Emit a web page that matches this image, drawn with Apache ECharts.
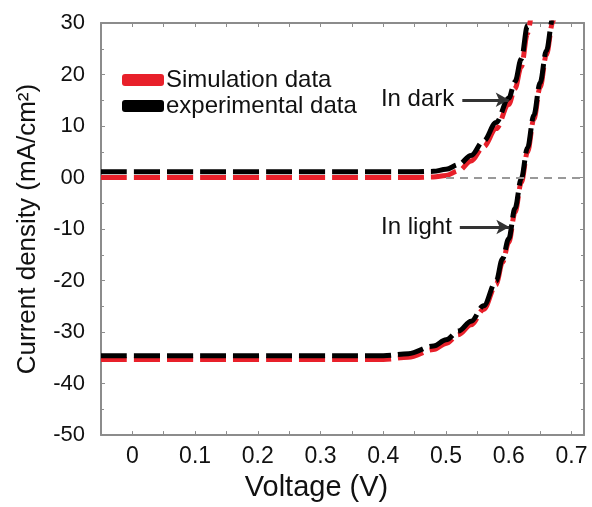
<!DOCTYPE html>
<html>
<head>
<meta charset="utf-8">
<script src="https://cdn.jsdelivr.net/npm/echarts@6/dist/echarts.min.js"></script>
<style>html,body{margin:0;padding:0;background:#fff}#c{width:592px;height:507px}</style>
</head>
<body>
<div id="c"></div>
<script>
// ---- data ----
const darkV = [-0.05, 0.1, 0.2, 0.3, 0.4, 0.45, 0.48, 0.50, 0.52, 0.54, 0.56, 0.58, 0.60, 0.61, 0.62, 0.63, 0.636];
const darkJ_sim = [0, 0, 0, 0, 0, 0, 0.1, 0.4, 1.3, 3.2, 6.0, 9.5, 14.2, 17.3, 21.5, 28, 32];
const darkJ_exp = [1.1, 1.1, 1.1, 1.1, 1.1, 1.1, 1.2, 1.6, 2.5, 4.3, 7.1, 10.7, 15.4, 18.6, 23, 29.5, 33.5];
const lightV = [-0.05, 0.1, 0.2, 0.3, 0.4, 0.44, 0.48, 0.50, 0.52, 0.54, 0.56, 0.58, 0.59, 0.60, 0.61, 0.62, 0.63, 0.64, 0.65, 0.66, 0.67, 0.675];
const lightJ_sim = [-35.3, -35.3, -35.3, -35.3, -35.3, -34.9, -33.4, -32.2, -30.5, -28.6, -25.6, -20.8, -16.5, -12.6, -6.8, -1.0, 5.0, 11.3, 17.5, 23.8, 30.0, 33];
const lightJ_exp = [-34.6, -34.6, -34.6, -34.6, -34.6, -34.2, -32.7, -31.5, -29.8, -27.9, -24.9, -20.1, -15.8, -11.9, -6.0, -0.2, 5.8, 12.1, 18.4, 24.6, 30.8, 34];
const xTickLabels = ['0', '0.1', '0.2', '0.3', '0.4', '0.5', '0.6', '0.7'];
const yTickLabels = {30: '30', 20: '20', 10: '10', 0: '00', '-10': '-10', '-20': '-20', '-30': '-30', '-40': '-40', '-50': '-50'};
const seriesNames = ['Simulation data', 'experimental data'];
const annDark = {text: 'In dark', from: [0.526, 15.1], to: [0.600, 15.1]};
const annLight = {text: 'In light', from: [0.522, -9.6], to: [0.601, -9.6]};

const zip = (a, b) => a.map((v, i) => [v, b[i]]);
const FONT = 'Liberation Sans, Arial, sans-serif';
const RED = '#e8202a', BLK = '#000000', AX = '#8c8c8c';

function curve(name, v, j, color, extra) {
  return Object.assign({
    name: name, type: 'line', data: zip(v, j), showSymbol: false, symbol: 'none',
    smooth: 0.35, smoothMonotone: 'x', silent: true,
    lineStyle: {color: color, width: 5, type: [26, 7]},
    itemStyle: {color: color}
  }, extra || {});
}

function arrow(a) {
  return {
    silent: true, symbol: ['none', 'arrow'], symbolSize: [11, 13],
    lineStyle: {color: '#333', width: 3, type: 'solid'},
    label: {show: true, position: 'start', formatter: a.text, fontSize: 24, fontFamily: FONT, color: '#111', distance: 8},
    data: [[{coord: a.from}, {coord: a.to}]]
  };
}

const axLine = {show: true, onZero: false, lineStyle: {color: AX, width: 2}};
const tick = {show: true, inside: true, length: 4, lineStyle: {color: AX}};

const chart = echarts.init(document.getElementById('c'));
chart.setOption({
  animation: false,
  grid: {left: 101, top: 23, right: 8, bottom: 70},
  legend: {
    data: seriesNames.map(n => ({name: n, icon: 'roundRect'})),
    orient: 'vertical', left: 117, top: 63, itemWidth: 42, itemHeight: 12, itemGap: 2,
    textStyle: {fontSize: 24, fontFamily: FONT, color: '#111', padding: [0, 0, 0, -3]}, selectedMode: false
  },
  xAxis: [{
    type: 'value', min: -0.05, max: 0.72, interval: 0.05,
    name: 'Voltage (V)', nameLocation: 'middle', nameGap: 36,
    nameTextStyle: {fontSize: 29, fontFamily: FONT, color: '#111', padding: [0, 52, 0, 0]},
    axisLine: axLine, axisTick: tick, splitLine: {show: false},
    axisLabel: {
      fontSize: 23, fontFamily: FONT, color: '#111', margin: 10,
      formatter: v => { const r = Math.round(v * 100); if (r < 0 || r % 10 !== 0) return ''; return xTickLabels[r / 10] || ''; }
    }
  }, {
    type: 'value', position: 'top', min: -0.05, max: 0.72, interval: 0.05,
    axisLine: axLine, axisTick: tick,
    axisLabel: {show: false}, splitLine: {show: false}
  }],
  yAxis: [{
    type: 'value', min: -50, max: 30, interval: 10,
    name: 'Current density (mA/cm²)', nameLocation: 'middle', nameGap: 60,
    nameTextStyle: {fontSize: 26, fontFamily: FONT, color: '#111'},
    axisLine: axLine, axisTick: tick,
    minorTick: {show: true, splitNumber: 2, length: 3, lineStyle: {color: AX}},
    splitLine: {show: false},
    axisLabel: {fontSize: 22, fontFamily: FONT, color: '#111', margin: 16, formatter: v => yTickLabels[v] !== undefined ? yTickLabels[v] : String(v)}
  }, {
    type: 'value', position: 'right', min: -50, max: 30, interval: 10,
    axisLine: axLine, axisTick: tick,
    minorTick: {show: true, splitNumber: 2, length: 3, lineStyle: {color: AX}},
    axisLabel: {show: false}, splitLine: {show: false}
  }],
  series: [
    {
      type: 'line', data: [], silent: true,
      markLine: {silent: true, symbol: 'none', lineStyle: {color: '#999', width: 2, type: [8, 6]}, label: {show: false},
        data: [[{coord: [0.5, 0]}, {coord: [0.72, 0]}]]}
    },
    curve(seriesNames[0], darkV, darkJ_sim, RED),
    curve(seriesNames[0], lightV, lightJ_sim, RED),
    curve(seriesNames[1], darkV, darkJ_exp, BLK, {markLine: arrow(annDark)}),
    curve(seriesNames[1], lightV, lightJ_exp, BLK, {markLine: arrow(annLight)})
  ]
});
</script>
</body>
</html>
